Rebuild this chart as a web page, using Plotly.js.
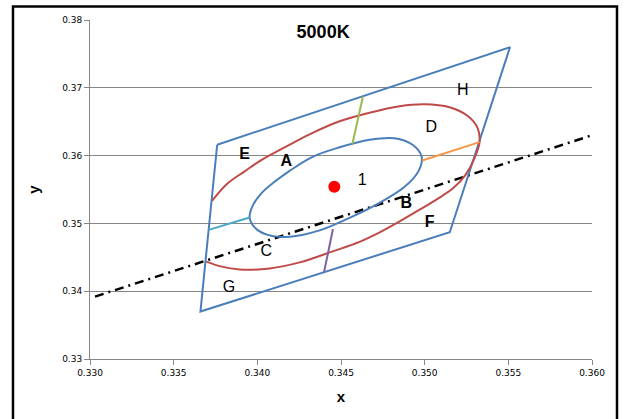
<!DOCTYPE html>
<html>
<head>
<meta charset="utf-8">
<script src="https://cdn.plot.ly/plotly-3.0.1.min.js"></script>
<style>html,body{margin:0;padding:0;background:#fff;}#chart{width:625px;height:419px;}</style>
</head>
<body>
<div id="chart"></div>
<script>
// Quadrangle (5000K)
const quadX = [0.3376, 0.3551, 0.3515, 0.3366, 0.3376];
const quadY = [0.3616, 0.3760, 0.3487, 0.3370, 0.3616];

// Outer (red) ellipse, clipped by quadrangle
const outerX = [0.33729, 0.33823, 0.33924, 0.34026, 0.34163, 0.34312, 0.34492, 0.34671, 0.34850, 0.34999, 0.35149, 0.35256, 0.35316, 0.35328, 0.35298, 0.35244, 0.35173, 0.35077, 0.34958, 0.34832, 0.34731, 0.34611, 0.34450, 0.34253, 0.34074, 0.33894, 0.33781, 0.33695];
const outerY = [0.35332, 0.35591, 0.35768, 0.35938, 0.36122, 0.36314, 0.36506, 0.36632, 0.36728, 0.36757, 0.36713, 0.36587, 0.36410, 0.36199, 0.35963, 0.35716, 0.35524, 0.35362, 0.35185, 0.35003, 0.34867, 0.34727, 0.34587, 0.34425, 0.34336, 0.34321, 0.34366, 0.34436];

// Inner (blue) ellipse
const innerX = [0.33954, 0.33972, 0.34024, 0.34103, 0.34193, 0.34330, 0.34492, 0.34671, 0.34820, 0.34928, 0.34982, 0.34964, 0.34880, 0.34731, 0.34551, 0.34372, 0.34193, 0.34062, 0.33984, 0.33954];
const innerY = [0.35086, 0.35259, 0.35443, 0.35613, 0.35775, 0.35982, 0.36122, 0.36233, 0.36255, 0.36159, 0.35982, 0.35775, 0.35539, 0.35303, 0.35082, 0.34897, 0.34804, 0.34831, 0.34941, 0.35086];

// Dividing segments
const cyanX = [0.33709, 0.33954], cyanY = [0.34904, 0.35086];
const greenX = [0.34568, 0.34631], greenY = [0.36170, 0.36872];
const orangeX = [0.34985, 0.35328], orangeY = [0.35927, 0.36199];
const purpleX = [0.34452, 0.34398], purpleY = [0.34915, 0.34274];

// Black dash-dot line
const locusX = [0.3303, 0.3600];
const locusY = [0.3392, 0.3630];

// Centre point
const centerX = [0.3446];
const centerY = [0.3554];

// Region labels
const boldLabels = ['E', 'A', 'B', 'F'];
const boldLabelX = [0.33924, 0.34173, 0.34890, 0.35029];
const boldLabelY = [0.36010, 0.35911, 0.35287, 0.35002];
const plainLabels = ['1', 'D', 'H', 'C', 'G'];
const plainLabelX = [0.34627, 0.35039, 0.35228, 0.34054, 0.33830];
const plainLabelY = [0.35631, 0.36405, 0.36960, 0.34573, 0.34050];

const blue = '#4a7ebb', red = '#be4b48';
const seg = (x, y, c) => ({x: x, y: y, mode: 'lines', line: {color: c, width: 2}});

const data = [
  {x: locusX, y: locusY, mode: 'lines', line: {color: '#000', width: 2.5, dash: '9px,5px,2px,5px'}},
  {x: quadX, y: quadY, mode: 'lines', line: {color: blue, width: 2}},
  {x: outerX, y: outerY, mode: 'lines', line: {color: red, width: 2, shape: 'spline', smoothing: 1}},
  {x: innerX, y: innerY, mode: 'lines', line: {color: blue, width: 2, shape: 'spline', smoothing: 1}},
  seg(cyanX, cyanY, '#46aac5'),
  seg(greenX, greenY, '#98b954'),
  seg(orangeX, orangeY, '#f79646'),
  seg(purpleX, purpleY, '#7d60a0'),
  {x: centerX, y: centerY, mode: 'markers', marker: {color: '#ff0000', size: 12}},
  {x: boldLabelX, y: boldLabelY, mode: 'text', text: boldLabels, textposition: 'middle center',
   textfont: {family: 'Liberation Sans, Arial, sans-serif', size: 16, color: '#000', weight: 'bold'}},
  {x: plainLabelX, y: plainLabelY, mode: 'text', text: plainLabels, textposition: 'middle center',
   textfont: {family: 'Liberation Sans, Arial, sans-serif', size: 16, color: '#000'}}
];

const layout = {
  width: 625, height: 419,
  margin: {l: 90, r: 33, t: 20, b: 60},
  paper_bgcolor: '#fff', plot_bgcolor: '#fff',
  showlegend: false,
  font: {family: 'DejaVu Sans, sans-serif', size: 9, color: '#000'},
  title: {text: '<b>5000K</b>', x: 0.517, xanchor: 'center', y: 0.924, yanchor: 'middle',
          font: {family: 'Liberation Sans, Arial, sans-serif', size: 18, color: '#000'}},
  xaxis: {
    range: [0.330, 0.360], dtick: 0.005, tick0: 0.330, tickformat: '.3f',
    showgrid: false, zeroline: false, showline: true, linecolor: '#868686', linewidth: 1,
    ticks: 'outside', ticklen: 5, tickcolor: '#868686',
    tickfont: {family: 'DejaVu Sans, sans-serif', size: 9, color: '#000'},
    title: {text: '<b>x</b>', standoff: 14, font: {family: 'Liberation Sans, Arial, sans-serif', size: 15, color: '#000'}},
    fixedrange: true
  },
  yaxis: {
    range: [0.33, 0.38], dtick: 0.01, tick0: 0.33, tickformat: '.2f',
    showgrid: true, gridcolor: '#868686', gridwidth: 1, zeroline: false,
    showline: true, linecolor: '#868686', linewidth: 1,
    ticks: 'outside', ticklen: 5, tickcolor: '#868686',
    tickfont: {family: 'DejaVu Sans, sans-serif', size: 9, color: '#000'},
    title: {text: '<b>y</b>', standoff: 18, font: {family: 'Liberation Sans, Arial, sans-serif', size: 15, color: '#000'}},
    fixedrange: true
  },
  shapes: [
    {type: 'rect', xref: 'paper', yref: 'paper', x0: -0.1534, x1: 1.0498, y0: -0.25, y1: 1.0398,
     line: {color: '#000', width: 2.5}, fillcolor: 'rgba(0,0,0,0)', layer: 'above'}
  ]
};

Plotly.newPlot('chart', data, layout, {displayModeBar: false, staticPlot: true});
</script>
</body>
</html>
